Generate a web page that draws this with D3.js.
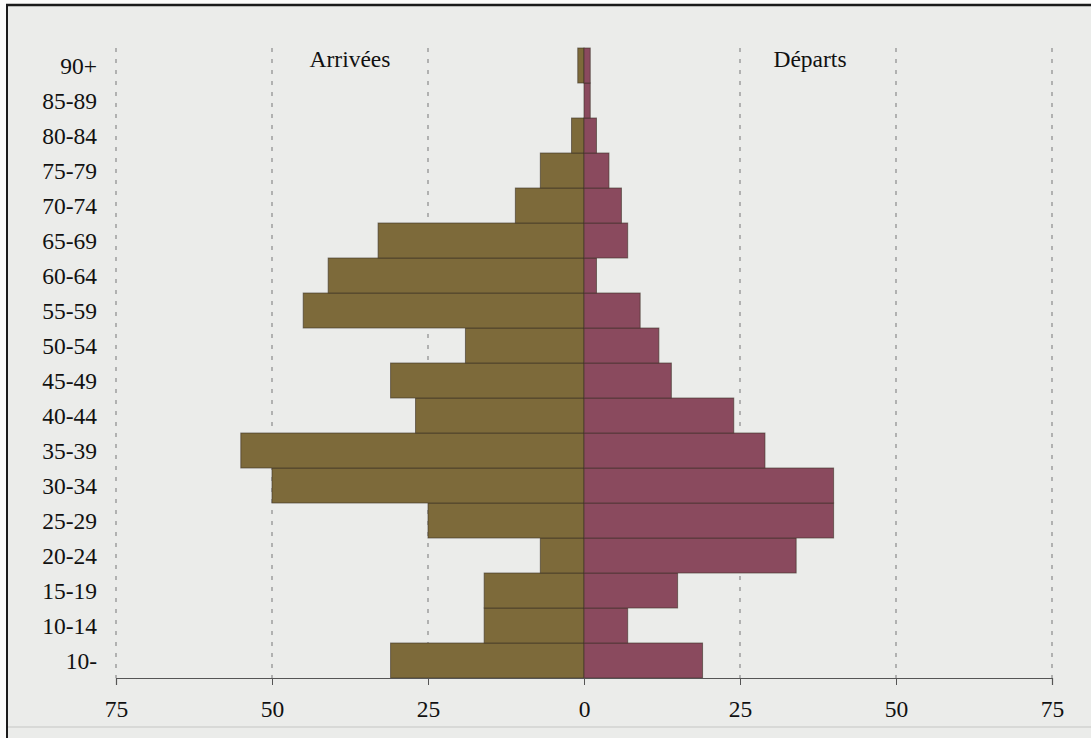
<!DOCTYPE html>
<html>
<head>
<meta charset="utf-8">
<script src="https://cdn.jsdelivr.net/npm/d3@7"></script>
<style>
  html, body { margin: 0; padding: 0; background: #ffffff; }
  svg { display: block; }
  text { font-family: "Liberation Serif", "DejaVu Serif", serif; fill: #111; }
</style>
</head>
<body>
<svg id="chart" width="1091" height="738"></svg>
<script>
// Age groups, bottom to top
const ageGroups = ["10-","10-14","15-19","20-24","25-29","30-34","35-39","40-44","45-49",
                   "50-54","55-59","60-64","65-69","70-74","75-79","80-84","85-89","90+"];
// Arrivées (left side)
const arrivees = [31, 16, 16, 7, 25, 50, 55, 27, 31, 19, 45, 41, 33, 11, 7, 2, 0, 1];
// Départs (right side)
const departs  = [19, 7, 15, 34, 40, 40, 29, 24, 14, 12, 9, 2, 7, 6, 4, 2, 1, 1];
const tickValues = [-75, -50, -25, 0, 25, 50, 75];
const seriesLabels = ["Arrivées", "Départs"];

const svg = d3.select("#chart");
const W = 1091, H = 738;
const FS = 23.5;

// paper background and frame
svg.append("rect").attr("x", 0).attr("y", 0).attr("width", W).attr("height", H).attr("fill", "#fbfbfa");
svg.append("rect").attr("x", 8).attr("y", 6).attr("width", W - 8).attr("height", H - 6).attr("fill", "#ebecea");
svg.append("line").attr("x1", 6).attr("x2", W).attr("y1", 5).attr("y2", 5)
  .attr("stroke", "#1a1a1a").attr("stroke-width", 2.5);
svg.append("line").attr("x1", 7).attr("x2", 7).attr("y1", 4).attr("y2", H)
  .attr("stroke", "#1a1a1a").attr("stroke-width", 2);
svg.append("line").attr("x1", 8).attr("x2", W).attr("y1", 727).attr("y2", 727)
  .attr("stroke", "#d2d3d1").attr("stroke-width", 1.5);

const x = d3.scaleLinear().domain([-75, 75]).range([116, 1052]);
const y = d3.scaleBand().domain(ageGroups.slice().reverse()).range([48, 678]).padding(0);

// dashed gridlines
svg.append("g").selectAll("line").data(tickValues.filter(v => v !== 0)).join("line")
  .attr("x1", d => x(d)).attr("x2", d => x(d))
  .attr("y1", 48).attr("y2", 678)
  .attr("stroke", "#8a8a8a").attr("stroke-width", 1.2)
  .attr("stroke-dasharray", "4,7");

const barStroke = "#3b3026";
// Arrivées bars
svg.append("g").selectAll("rect").data(ageGroups.map((a, i) => ({a, v: arrivees[i]})).filter(d => d.v > 0)).join("rect")
  .attr("x", d => x(-d.v)).attr("y", d => y(d.a))
  .attr("width", d => x(0) - x(-d.v)).attr("height", y.bandwidth())
  .attr("fill", "#7d6a3a").attr("stroke", barStroke).attr("stroke-opacity", 0.6).attr("stroke-width", 1);
// Départs bars
svg.append("g").selectAll("rect").data(ageGroups.map((a, i) => ({a, v: departs[i]})).filter(d => d.v > 0)).join("rect")
  .attr("x", x(0)).attr("y", d => y(d.a))
  .attr("width", d => x(d.v) - x(0)).attr("height", y.bandwidth())
  .attr("fill", "#8a4a5e").attr("stroke", barStroke).attr("stroke-opacity", 0.6).attr("stroke-width", 1);

// x axis
const axis = d3.axisBottom(x).tickValues(tickValues).tickFormat(d => Math.abs(d)).tickSize(7).tickPadding(15);
const gx = svg.append("g").attr("transform", "translate(0,678)").call(axis);
gx.select(".domain").attr("stroke", "#555").attr("stroke-width", 1.2);
gx.selectAll(".tick line").attr("stroke", "#555");
gx.selectAll(".tick text").attr("font-size", FS).attr("fill", "#111")
  .attr("font-family", "Liberation Serif, serif");

// category labels
svg.append("g").selectAll("text").data(ageGroups).join("text")
  .attr("x", 97).attr("y", d => y(d) + y.bandwidth() / 2 + 8)
  .attr("text-anchor", "end").attr("font-size", FS)
  .text(d => d);

// series labels
svg.append("text").attr("x", 350).attr("y", 67).attr("text-anchor", "middle").attr("font-size", FS).text(seriesLabels[0]);
svg.append("text").attr("x", 810).attr("y", 67).attr("text-anchor", "middle").attr("font-size", FS).text(seriesLabels[1]);
</script>
</body>
</html>
